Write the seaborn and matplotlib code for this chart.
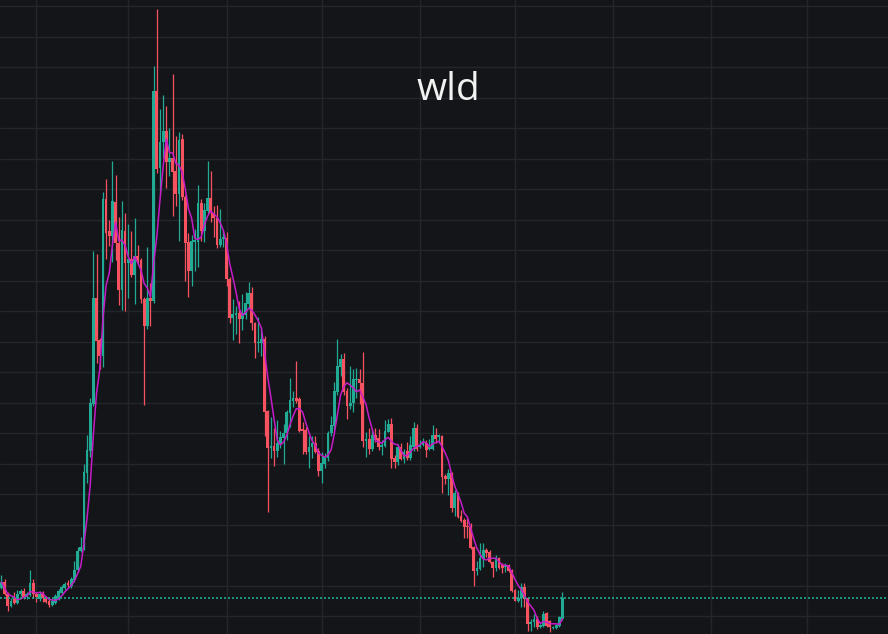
import numpy as np
import pandas as pd
import seaborn as sns
import matplotlib.pyplot as plt
import matplotlib.dates as mdates

title = "wld"
start_date = "2024-01-21"

opens = [
    1.52, 1.58, 1.46, 1.34, 1.41, 1.37, 1.46, 1.49, 1.43, 1.45,
    1.57, 1.46, 1.41, 1.46, 1.42, 1.39, 1.35, 1.37, 1.42, 1.47,
    1.52, 1.57, 1.54, 1.60, 1.70, 1.89, 1.92, 2.67, 2.89, 3.36,
    4.42, 4.00, 3.84, 5.41, 5.09, 5.04, 5.38, 4.97, 4.50, 5.09,
    4.77, 4.81, 4.65, 4.84, 4.80, 4.41, 4.14, 4.42, 4.39, 6.49,
    5.72, 5.98, 6.09, 5.78, 5.82, 5.69, 5.46, 6.01, 5.43, 4.98,
    4.69, 4.98, 4.98, 5.37, 5.09, 5.29, 5.42, 5.27, 5.22, 4.95,
    5.01, 5.02, 4.61, 4.22, 4.25, 4.27, 4.21, 4.25, 4.36, 4.47,
    4.17, 3.97, 3.97, 4.01, 3.29, 2.92, 2.94, 2.89, 2.97, 3.02,
    3.07, 3.27, 3.39, 3.42, 3.41, 3.11, 3.10, 2.88, 2.93, 2.97,
    2.89, 2.69, 2.76, 2.82, 3.07, 3.14, 3.48, 3.73, 3.81, 3.49,
    3.34, 3.37, 3.60, 3.61, 3.57, 2.99, 3.01, 2.91, 3.05, 3.02,
    2.93, 2.94, 3.08, 3.16, 2.82, 2.78, 2.93, 2.81, 2.89, 2.82,
    2.93, 3.12, 2.93, 2.95, 2.97, 2.91, 2.91, 3.05, 3.03, 3.04,
    2.64, 2.61, 2.67, 2.32, 2.47, 2.24, 2.20, 2.14, 2.13, 1.93,
    1.69, 1.71, 1.81, 1.90, 1.88, 1.78, 1.72, 1.82, 1.75, 1.73,
    1.75, 1.70, 1.50, 1.39, 1.42, 1.53, 1.42, 1.16, 1.18, 1.21,
    1.13, 1.14, 1.27, 1.19, 1.12, 1.12, 1.14, 1.21,
]
highs = [
    1.65, 1.61, 1.48, 1.42, 1.48, 1.50, 1.51, 1.52, 1.48, 1.70,
    1.61, 1.48, 1.49, 1.49, 1.44, 1.42, 1.41, 1.46, 1.51, 1.55,
    1.58, 1.60, 1.63, 1.79, 1.93, 2.03, 2.76, 3.05, 3.42, 4.89,
    4.86, 4.02, 5.48, 5.61, 5.20, 5.79, 5.65, 5.23, 5.39, 5.27,
    5.16, 5.09, 5.22, 4.95, 4.82, 4.43, 4.93, 4.57, 6.74, 7.31,
    6.31, 6.45, 6.34, 6.12, 6.66, 6.04, 6.08, 6.06, 5.45, 5.07,
    5.05, 5.11, 5.55, 5.41, 5.37, 5.79, 5.69, 5.34, 5.35, 5.31,
    5.10, 5.08, 4.63, 4.41, 4.34, 4.39, 4.46, 4.48, 4.58, 4.53,
    4.18, 4.23, 4.13, 4.04, 3.30, 3.23, 3.12, 3.20, 3.09, 3.16,
    3.30, 3.62, 3.49, 3.79, 3.43, 3.18, 3.13, 3.04, 3.04, 3.04,
    2.92, 2.88, 2.87, 3.09, 3.24, 3.58, 4.01, 3.86, 3.87, 3.52,
    3.74, 3.71, 3.72, 3.71, 3.88, 3.08, 3.12, 3.11, 3.12, 3.11,
    3.00, 3.20, 3.21, 3.22, 2.85, 2.96, 2.97, 2.91, 2.98, 3.04,
    3.18, 3.16, 3.00, 3.02, 3.00, 3.01, 3.15, 3.12, 3.06, 3.05,
    2.66, 2.71, 2.68, 2.50, 2.48, 2.30, 2.22, 2.22, 2.17, 1.94,
    1.79, 1.97, 1.97, 1.92, 1.90, 1.79, 1.85, 1.83, 1.77, 1.77,
    1.76, 1.71, 1.51, 1.50, 1.57, 1.57, 1.43, 1.21, 1.26, 1.24,
    1.16, 1.29, 1.28, 1.20, 1.14, 1.16, 1.24, 1.48,
]
lows = [
    1.51, 1.45, 1.29, 1.33, 1.36, 1.36, 1.44, 1.41, 1.41, 1.44,
    1.42, 1.38, 1.39, 1.38, 1.37, 1.33, 1.34, 1.36, 1.40, 1.46,
    1.50, 1.53, 1.52, 1.58, 1.68, 1.88, 1.90, 2.57, 2.83, 3.34,
    3.77, 3.71, 3.73, 4.81, 4.94, 4.78, 4.80, 4.35, 4.30, 4.29,
    4.42, 4.63, 4.36, 4.75, 4.37, 3.35, 4.11, 4.14, 4.37, 5.67,
    5.45, 5.82, 5.52, 5.64, 5.24, 5.34, 4.99, 5.40, 4.59, 4.43,
    4.54, 4.69, 4.73, 4.99, 4.98, 5.27, 5.18, 5.03, 4.92, 4.93,
    4.93, 4.54, 4.17, 4.00, 4.06, 3.97, 4.10, 4.21, 4.32, 4.10,
    3.82, 3.88, 3.84, 3.04, 2.28, 2.82, 2.74, 2.83, 2.92, 2.76,
    3.00, 3.13, 3.33, 3.37, 3.08, 2.86, 2.86, 2.72, 2.82, 2.87,
    2.64, 2.57, 2.72, 2.79, 3.04, 3.10, 3.45, 3.64, 3.45, 3.21,
    3.31, 3.28, 3.42, 3.36, 2.93, 2.83, 2.86, 2.89, 2.98, 2.90,
    2.85, 2.93, 3.08, 2.72, 2.72, 2.75, 2.80, 2.77, 2.80, 2.80,
    2.89, 2.89, 2.92, 2.94, 2.83, 2.90, 2.90, 2.97, 2.97, 2.47,
    2.56, 2.45, 2.28, 2.24, 2.22, 2.18, 2.02, 2.02, 1.91, 1.54,
    1.65, 1.70, 1.73, 1.83, 1.77, 1.63, 1.69, 1.71, 1.67, 1.68,
    1.68, 1.48, 1.39, 1.38, 1.33, 1.33, 1.09, 1.09, 1.13, 1.11,
    1.12, 1.13, 1.13, 1.08, 1.11, 1.11, 1.13, 1.20,
]
closes = [
    1.58, 1.46, 1.34, 1.39, 1.37, 1.46, 1.49, 1.43, 1.46, 1.57,
    1.46, 1.43, 1.46, 1.42, 1.38, 1.35, 1.39, 1.44, 1.49, 1.53,
    1.56, 1.55, 1.61, 1.70, 1.89, 1.93, 2.68, 2.90, 3.37, 4.42,
    3.99, 3.84, 5.41, 5.07, 5.04, 5.39, 4.97, 4.50, 5.10, 4.77,
    4.81, 4.65, 4.84, 4.79, 4.41, 4.14, 4.42, 4.39, 6.49, 5.71,
    5.98, 6.09, 5.78, 5.82, 5.68, 5.46, 6.00, 5.43, 4.97, 4.69,
    4.99, 5.00, 5.37, 5.09, 5.30, 5.42, 5.27, 5.22, 4.95, 5.01,
    5.03, 4.61, 4.22, 4.26, 4.27, 4.21, 4.27, 4.37, 4.47, 4.17,
    3.97, 3.98, 4.01, 3.28, 2.92, 2.94, 2.89, 2.97, 3.03, 3.07,
    3.28, 3.40, 3.42, 3.39, 3.09, 3.09, 2.88, 2.93, 2.97, 2.88,
    2.69, 2.77, 2.83, 3.07, 3.15, 3.49, 3.74, 3.81, 3.48, 3.34,
    3.37, 3.61, 3.61, 3.57, 2.99, 3.01, 2.91, 3.05, 3.00, 2.93,
    2.95, 3.09, 3.16, 2.81, 2.78, 2.93, 2.81, 2.88, 2.82, 2.95,
    3.12, 2.91, 2.95, 2.98, 2.90, 2.93, 3.05, 3.01, 3.05, 2.63,
    2.61, 2.67, 2.32, 2.47, 2.23, 2.19, 2.13, 2.13, 1.92, 1.69,
    1.72, 1.82, 1.90, 1.87, 1.78, 1.72, 1.82, 1.72, 1.72, 1.75,
    1.69, 1.49, 1.39, 1.42, 1.53, 1.41, 1.16, 1.18, 1.21, 1.13,
    1.15, 1.26, 1.14, 1.13, 1.13, 1.15, 1.23, 1.42,
]
ma_window = 5

bg = "#141519"
grid_color = "#24262b"
up_color = "#22ab94"
down_color = "#f7525f"
ma_color = "#c51cc8"

sns.set_theme(style="dark", rc={
    "axes.facecolor": bg,
    "figure.facecolor": bg,
    "grid.color": grid_color,
})
plt.rcParams["font.family"] = ["Open Sans", "DejaVu Sans"]

df = pd.DataFrame({
    "date": pd.date_range(start_date, periods=len(closes), freq="D"),
    "open": opens, "high": highs, "low": lows, "close": closes,
})
df["x"] = mdates.date2num(df["date"])
df["ma"] = df["close"].rolling(ma_window, min_periods=1).mean()
df["color"] = np.where(df["close"] >= df["open"], up_color, down_color)

fig = plt.figure(figsize=(8.88, 6.34), dpi=100)
ax = fig.add_axes([0, 0, 1, 1])

# wicks then bodies
ax.vlines(df["x"], df["low"], df["high"], colors=df["color"], linewidth=0.9, zorder=2)
body = (df["close"] - df["open"]).abs().clip(lower=0.012)
ax.bar(df["x"], body, bottom=df[["open", "close"]].min(axis=1), width=0.88,
       color=df["color"], linewidth=0, zorder=3)

sns.lineplot(data=df, x="x", y="ma", color=ma_color, linewidth=1.1, ax=ax, zorder=4)
ax.axhline(closes[-1], color=up_color, linestyle=(0, (1.2, 1.2)), linewidth=1.2, zorder=4)

x0 = mdates.date2num(pd.Timestamp(start_date))
ax.set_xlim(x0 - 0.47, x0 + 279.7)
ax.set_ylim(1.06, 7.40)
ax.set_xticks(mdates.date2num(pd.date_range("2024-02-01", "2024-10-01", freq="MS")))
ax.set_yticks(np.arange(1.24, 7.40, 0.305))
ax.tick_params(length=0, labelbottom=False, labelleft=False)
ax.grid(True, color=grid_color, linewidth=1)
ax.set_axisbelow(True)
ax.set_xlabel("")
ax.set_ylabel("")
for s in ax.spines.values():
    s.set_visible(False)

ax.text(0.5045, 0.858, title, transform=ax.transAxes, ha="center", va="center",
        fontsize=28, fontweight="medium", color="#f2f2f2")

fig.savefig("out.png", dpi=100, facecolor=bg)
